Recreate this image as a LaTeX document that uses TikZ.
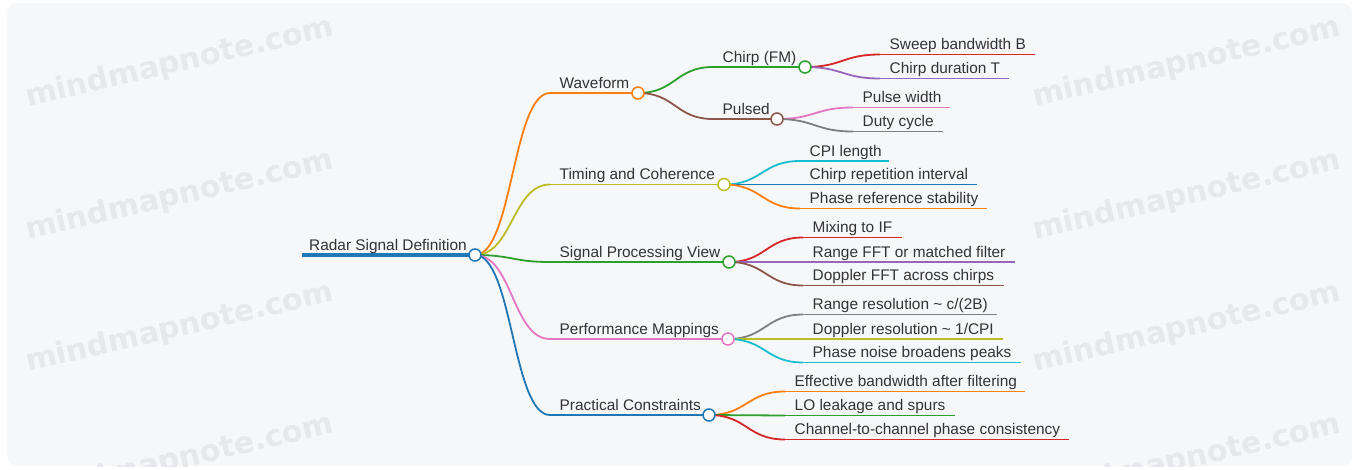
\documentclass[tikz,border=0pt]{standalone}
\usepackage{fontspec}
\setmainfont{Liberation Sans}
\newfontfamily\wmfont{DejaVu Sans}
\usetikzlibrary{calc}

% category palette
\definecolor{mmblue}{HTML}{1F77B4}
\definecolor{mmorange}{HTML}{FF7F0E}
\definecolor{mmgreen}{HTML}{2CA02C}
\definecolor{mmred}{HTML}{D62728}
\definecolor{mmpurple}{HTML}{9467BD}
\definecolor{mmbrown}{HTML}{8C564B}
\definecolor{mmpink}{HTML}{E377C2}
\definecolor{mmgray}{HTML}{7F7F7F}
\definecolor{mmolive}{HTML}{BCBD22}
\definecolor{mmcyan}{HTML}{17BECF}
\definecolor{textgray}{HTML}{333333}
\definecolor{paperbg}{RGB}{246,247,249}
\definecolor{wmgray}{RGB}{231,232,235}

\pgfdeclarelayer{paper}
\pgfdeclarelayer{links}
\pgfsetlayers{paper,links,main}

\tikzset{
  lbl/.style={inner sep=0pt, anchor=base west, text=textgray,
    font=\fontsize{15.4}{18}\selectfont},
  dot/.style={circle, draw=#1, fill=white, line width=1.5pt,
    minimum size=12pt, inner sep=0pt},
  branch/.style={line width=1.8pt, draw=#1},
  watermark/.style={text=wmgray, rotate=13, inner sep=0pt,
    font=\wmfont\bfseries\fontsize{30}{34}\selectfont},
}

% smooth S-shaped link with horizontal tangents at both ends
\newcommand\mmcurve[3]{%
  \draw[branch=#1] let \p1=(#2), \p2=(#3) in
    (\p1) .. controls ({0.5*\x1+0.5*\x2},\y1) and ({0.5*\x1+0.5*\x2},\y2) .. (\p2);}

% inner topic: name, parent, colour, line start x, circle x, y, label
\newcommand\mmtopic[7]{%
  \coordinate (#1-s) at (#4,#6);
  \node[dot=#3] (#1) at (#5,#6) {};
  \node[lbl] (#1-t) at ($(#1-s)+(9.5,-5)$) {#7};
  \begin{pgfonlayer}{links}
    \mmcurve{#3}{#2.center}{#1-s}
    \draw[branch=#3] (#1-s) -- (#1.center);
  \end{pgfonlayer}}

% leaf topic: name, parent, colour, line start x, line end x, y, label
\newcommand\mmleaf[7]{%
  \coordinate (#1-s) at (#4,#6);
  \coordinate (#1-e) at (#5,#6);
  \node[lbl] (#1-t) at ($(#1-s)+(9.5,-5)$) {#7};
  \begin{pgfonlayer}{links}
    \mmcurve{#3}{#2.center}{#1-s}
    \draw[branch=#3] (#1-s) -- (#1-e);
  \end{pgfonlayer}}

\begin{document}
\begin{tikzpicture}[x=1pt,y=-1pt]
\useasboundingbox (0,0) rectangle (1359,469);

\begin{pgfonlayer}{paper}
  \fill[white] (0,0) rectangle (1359,469);
  \fill[paperbg, rounded corners=10pt] (7,3) rectangle (1352,466);
  \begin{scope}
    \clip[rounded corners=10pt] (7,3) rectangle (1352,466);
    \foreach \wx in {180,1187}
      \foreach \wy in {63,196,328,460}
        \node[watermark] (wm-\wx-\wy) at (\wx,\wy) {mindmapnote.com};
  \end{scope}
\end{pgfonlayer}

% central topic
\coordinate (root-s) at (302,255);
\node[dot=mmblue] (root) at (475,255) {};
\node[lbl] (root-t) at (309,250) {Radar Signal Definition};
\begin{pgfonlayer}{links}
  \draw[mmblue, line width=3.5pt] (root-s) -- (root.center);
\end{pgfonlayer}

% first level
\mmtopic{wf}{root}{mmorange}{550}{638}{93}{Waveform}
\mmtopic{tc}{root}{mmolive}{550}{724}{184.5}{Timing and Coherence}
\mmtopic{sp}{root}{mmgreen}{550}{729}{262}{Signal Processing View}
\mmtopic{pm}{root}{mmpink}{550}{728}{339}{Performance Mappings}
\mmtopic{pc}{root}{mmblue}{550}{709}{415}{Practical Constraints}

% waveform branch
\mmtopic{ch}{wf}{mmgreen}{713}{805}{67}{Chirp (FM)}
\mmtopic{pu}{wf}{mmbrown}{713}{777}{119}{Pulsed}
\mmleaf{sb}{ch}{mmred}{880}{1035}{54.5}{Sweep bandwidth B}
\mmleaf{cd}{ch}{mmpurple}{880}{1009}{78.5}{Chirp duration T}
\mmleaf{pw}{pu}{mmpink}{853}{950}{107.5}{Pulse width}
\mmleaf{dc}{pu}{mmgray}{853}{943}{131.5}{Duty cycle}

% timing branch
\mmleaf{cpi}{tc}{mmcyan}{800}{889}{161}{CPI length}
\mmleaf{cri}{tc}{mmblue}{800}{977}{184.5}{Chirp repetition interval}
\mmleaf{prs}{tc}{mmorange}{800}{987}{208.5}{Phase reference stability}

% processing branch
\mmleaf{mix}{sp}{mmred}{803}{902}{237.5}{Mixing to IF}
\mmleaf{rfft}{sp}{mmpurple}{803}{1015}{262}{Range FFT or matched filter}
\mmleaf{dfft}{sp}{mmbrown}{803}{1004}{285.5}{Doppler FFT across chirps}

% performance branch
\mmleaf{rr}{pm}{mmgray}{803}{997}{314.5}{Range resolution \textasciitilde{} c/(2B)}
\mmleaf{dr}{pm}{mmolive}{803}{1003}{339}{Doppler resolution \textasciitilde{} 1/CPI}
\mmleaf{pn}{pm}{mmcyan}{803}{1021}{362.5}{Phase noise broadens peaks}

% constraints branch
\mmleaf{eb}{pc}{mmorange}{785}{1025}{391.5}{Effective bandwidth after filtering}
\mmleaf{lo}{pc}{mmgreen}{785}{955}{415.5}{LO leakage and spurs}
\mmleaf{cc}{pc}{mmred}{785}{1069}{439.5}{Channel-to-channel phase consistency}
\end{tikzpicture}
\end{document}
